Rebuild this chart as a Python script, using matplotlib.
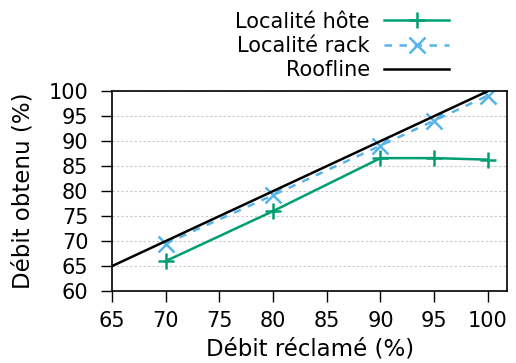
import matplotlib
matplotlib.use("Agg")
import matplotlib.pyplot as plt

x_host = [70, 80, 90, 95, 100]
y_host = [66.0, 76.0, 86.6, 86.6, 86.3]
x_rack = [70, 80, 90, 95, 100]
y_rack = [69.5, 79.2, 89.1, 94.1, 99.1]
x_roof = [65, 100]
y_roof = [65, 100]
xticks = [65, 70, 75, 80, 85, 90, 95, 100]
yticks = [60, 65, 70, 75, 80, 85, 90, 95, 100]

plt.rcParams['font.family'] = ['DejaVu Sans']
fig = plt.figure(figsize=(5.16, 3.63), dpi=100)
ax = fig.add_axes([0.217, 0.198, 0.766, 0.551])

l1, = ax.plot(x_host, y_host, color='#009e73', lw=1.8, marker='+', ms=11, mew=1.8, label='Localité hôte')
l2, = ax.plot(x_rack, y_rack, color='#56b4e9', lw=1.8, ls=(0, (3, 3)), marker='x', ms=11, mew=1.8, label='Localité rack')
l3, = ax.plot(x_roof, y_roof, color='black', lw=1.8, label='Roofline')

ax.set_xlim(65, 101.8)
ax.set_ylim(60, 100)
ax.set_xticks(xticks)
ax.set_yticks(yticks)
ax.tick_params(labelsize=15, direction='out', length=8, width=1, colors='black')
ax.tick_params(axis='x', top=False, pad=6)
ax.tick_params(axis='y', right=False, pad=9)
ax.yaxis.grid(True, color='#c8c8c8', ls=(0, (2, 2)), lw=0.8)
ax.set_axisbelow(True)
for s in ax.spines.values():
    s.set_linewidth(1.2)
ax.set_xlabel('Débit réclamé (%)', fontsize=16.5, labelpad=5)
ax.set_ylabel('Débit obtenu (%)', fontsize=16.5, labelpad=10)

fig.legend(handles=[l1, l2, l3], loc='upper right', bbox_to_anchor=(0.894, 1.002),
           frameon=False, markerfirst=False, fontsize=15, handlelength=3.1,
           labelspacing=0.2, handletextpad=0.7, borderaxespad=0.2)

fig.savefig('out.png', dpi=100)
